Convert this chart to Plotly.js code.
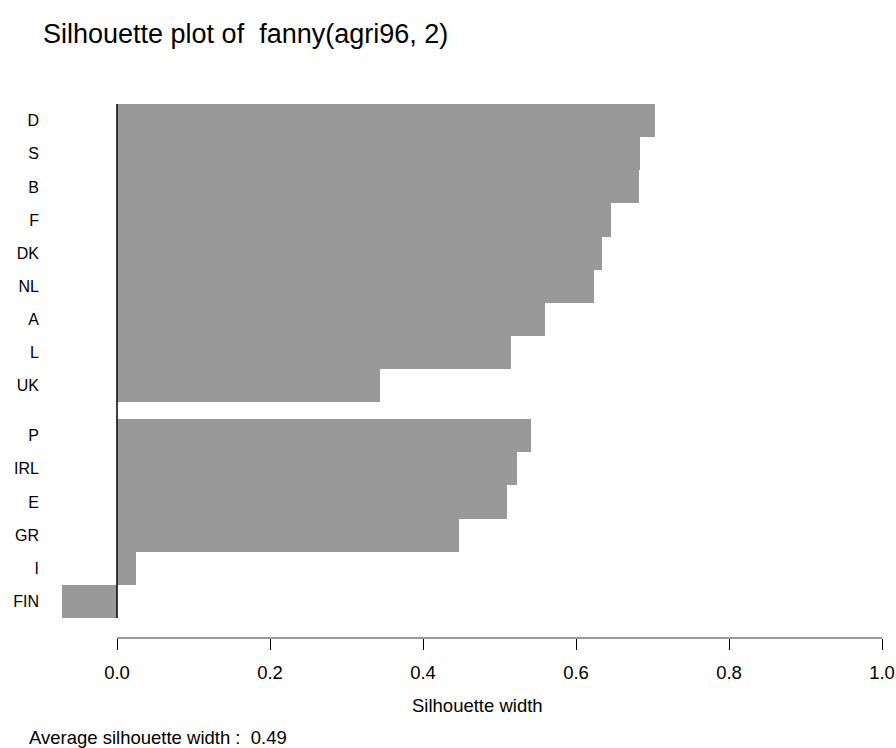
<!DOCTYPE html>
<html>
<head>
<meta charset="utf-8">
<script src="https://cdn.plot.ly/plotly-3.0.1.min.js"></script>
<style>html,body{margin:0;padding:0;background:#fff;}#chart{width:896px;height:748px;}</style>
</head>
<body>
<div id="chart"></div>
<script>
// Cluster 1 (top) and cluster 2 (bottom), sorted by silhouette width
const cluster1Labels = ["D", "S", "B", "F", "DK", "NL", "A", "L", "UK"];
const cluster1Widths = [0.703, 0.684, 0.682, 0.646, 0.634, 0.624, 0.559, 0.515, 0.344];
const cluster2Labels = ["P", "IRL", "E", "GR", "I", "FIN"];
const cluster2Widths = [0.541, 0.523, 0.510, 0.447, 0.025, -0.072];
const xTicks = [0, 0.2, 0.4, 0.6, 0.8, 1.0];
const xTickLabels = ["0.0", "0.2", "0.4", "0.6", "0.8", "1.0"];
const titleText = "Silhouette plot of  fanny(agri96, 2)";
const xTitleText = "Silhouette width";
const avgText = "Average silhouette width :  0.49";

// bar positions: unit spacing, half-bar gap between clusters
const clusterGap = 0.5;
const labels = [], widths = [], pos = [];
let p = 0;
[[cluster1Labels, cluster1Widths], [cluster2Labels, cluster2Widths]].forEach(([lab, w], ci) => {
  if (ci > 0) p += clusterGap;
  lab.forEach((l, i) => { labels.push(l); widths.push(w[i]); pos.push(p); p += 1; });
});
const firstTop = pos[0] - 0.5;
const lastBottom = pos[pos.length - 1] + 0.5;

// pixel layout
const W = 896, H = 748;
const mL = 40, mR = 0, mT = 70, mB = 110;
const plotW = W - mL - mR, plotH = H - mT - mB;
const pxPerX = 765;
const x0px = 117 - mL;
const xRange = [-x0px / pxPerX, (plotW - x0px) / pxPerX];
const pxPerY = (618 - 104) / (lastBottom - firstTop);
const yTopVal = firstTop - (104 - mT) / pxPerY;
const yBotVal = lastBottom + (mT + plotH - 618) / pxPerY;

const font = "Liberation Sans, Arial, Helvetica, sans-serif";

const trace = {
  type: "bar",
  orientation: "h",
  x: widths,
  y: pos,
  width: 1,
  marker: { color: "#999999", line: { width: 0 } },
  hoverinfo: "x+text",
  text: labels,
  textposition: "none"
};

const layout = {
  width: W, height: H,
  margin: { l: mL, r: mR, t: mT, b: mB, pad: 0 },
  paper_bgcolor: "#ffffff",
  plot_bgcolor: "#ffffff",
  showlegend: false,
  bargap: 0,
  font: { family: font, color: "#000000", size: 16 },
  title: {
    text: titleText,
    font: { family: font, size: 27, color: "#000000" },
    xref: "container", yref: "container",
    x: 43 / W, xanchor: "left",
    y: 1 - 34 / H, yanchor: "middle"
  },
  xaxis: {
    range: xRange,
    tickvals: xTicks,
    ticktext: xTickLabels,
    ticks: "outside",
    ticklen: 11,
    tickwidth: 1,
    tickcolor: "#000000",
    ticklabelstandoff: 7,
    tickfont: { family: font, size: 18.5, color: "#000000" },
    showline: false,
    showgrid: false,
    zeroline: false,
    fixedrange: true
  },
  yaxis: {
    range: [yBotVal, yTopVal],
    tickvals: pos,
    ticktext: labels,
    ticks: "",
    tickfont: { family: font, size: 16, color: "#000000" },
    showline: false,
    showgrid: false,
    zeroline: false,
    fixedrange: true
  },
  shapes: [
    { type: "line", xref: "x", yref: "y", x0: 0, x1: 0, y0: firstTop, y1: lastBottom,
      line: { color: "#000000", width: 1.5 } },
    { type: "line", xref: "x", yref: "paper", x0: xTicks[0], x1: xTicks[xTicks.length - 1], y0: 0, y1: 0,
      line: { color: "#333333", width: 1 } }
  ],
  annotations: [
    { text: xTitleText, xref: "x", yref: "paper", x: (xRange[0] + 1.043) / 2 , y: (638 - 705) / plotH,
      xanchor: "center", yanchor: "middle", showarrow: false,
      font: { family: font, size: 18.5, color: "#000000" } },
    { text: avgText, xref: "paper", yref: "paper", x: (27 - mL) / plotW, y: (638 - 737) / plotH,
      xanchor: "left", yanchor: "middle", showarrow: false,
      font: { family: font, size: 18.5, color: "#000000" } }
  ]
};

Plotly.newPlot("chart", [trace], layout, { staticPlot: true, displayModeBar: false });
</script>
</body>
</html>
